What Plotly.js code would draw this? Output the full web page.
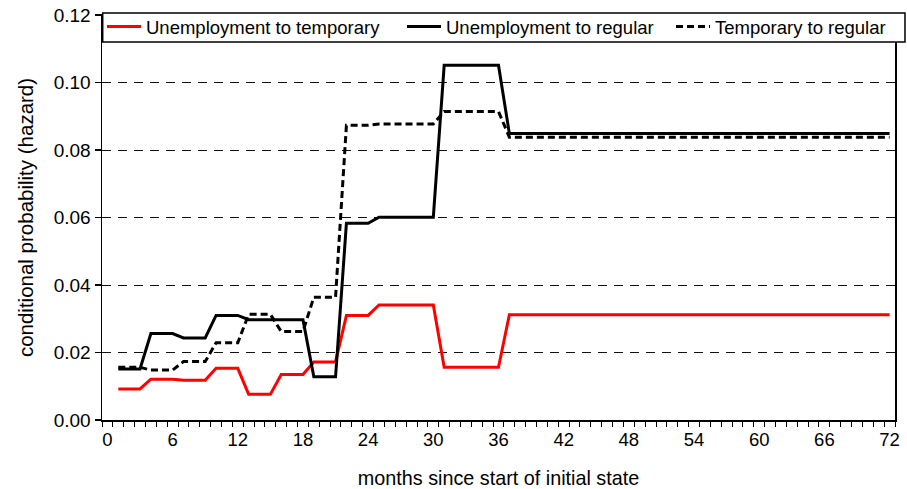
<!DOCTYPE html>
<html>
<head>
<meta charset="utf-8">
<script src="https://cdn.plot.ly/plotly-3.0.1.min.js"></script>
<style>
html,body{margin:0;padding:0;background:#fff;}
#chart{width:907px;height:489px;}
</style>
</head>
<body>
<div id="chart"></div>
<script>
var months = [1,2,3,4,5,6,7,8,9,10,11,12,13,14,15,16,17,18,19,20,21,22,23,24,25,26,27,28,29,30,31,32,33,34,35,36,37,38,39,40,41,42,43,44,45,46,47,48,49,50,51,52,53,54,55,56,57,58,59,60,61,62,63,64,65,66,67,68,69,70,71,72];

var unempToTemp = [
  0.0092,0.0092,0.0092, 0.0121,0.0121,0.0121, 0.0118,0.0118,0.0118,
  0.0153,0.0153,0.0153, 0.0076,0.0076,0.0076, 0.0135,0.0135,0.0135,
  0.0172,0.0172,0.0172, 0.0310,0.0310,0.0310,
  0.0341,0.0341,0.0341,0.0341,0.0341,0.0341,
  0.0156,0.0156,0.0156,0.0156,0.0156,0.0156,
  0.0312,0.0312,0.0312,0.0312,0.0312,0.0312,0.0312,0.0312,0.0312,0.0312,0.0312,0.0312,
  0.0312,0.0312,0.0312,0.0312,0.0312,0.0312,0.0312,0.0312,0.0312,0.0312,0.0312,0.0312,
  0.0312,0.0312,0.0312,0.0312,0.0312,0.0312,0.0312,0.0312,0.0312,0.0312,0.0312,0.0312
];

var unempToRegular = [
  0.0151,0.0151,0.0151, 0.0256,0.0256,0.0256, 0.0243,0.0243,0.0243,
  0.0310,0.0310,0.0310, 0.0297,0.0297,0.0297, 0.0297,0.0297,0.0297,
  0.0128,0.0128,0.0128, 0.0583,0.0583,0.0583,
  0.0601,0.0601,0.0601,0.0601,0.0601,0.0601,
  0.1051,0.1051,0.1051,0.1051,0.1051,0.1051,
  0.0849,0.0849,0.0849,0.0849,0.0849,0.0849,0.0849,0.0849,0.0849,0.0849,0.0849,0.0849,
  0.0849,0.0849,0.0849,0.0849,0.0849,0.0849,0.0849,0.0849,0.0849,0.0849,0.0849,0.0849,
  0.0849,0.0849,0.0849,0.0849,0.0849,0.0849,0.0849,0.0849,0.0849,0.0849,0.0849,0.0849
];

var tempToRegular = [
  0.0156,0.0156,0.0156, 0.0148,0.0148,0.0148, 0.0173,0.0173,0.0173,
  0.0229,0.0229,0.0229, 0.0313,0.0313,0.0313, 0.0262,0.0262,0.0262,
  0.0364,0.0364,0.0364, 0.0873,0.0873,0.0873,
  0.0877,0.0877,0.0877,0.0877,0.0877,0.0877,
  0.0914,0.0914,0.0914,0.0914,0.0914,0.0914,
  0.0838,0.0838,0.0838,0.0838,0.0838,0.0838,0.0838,0.0838,0.0838,0.0838,0.0838,0.0838,
  0.0838,0.0838,0.0838,0.0838,0.0838,0.0838,0.0838,0.0838,0.0838,0.0838,0.0838,0.0838,
  0.0838,0.0838,0.0838,0.0838,0.0838,0.0838,0.0838,0.0838,0.0838,0.0838,0.0838,0.0838
];

var seriesNames = ['Unemployment to temporary', 'Unemployment to regular', 'Temporary to regular'];
var xTickVals = [0,6,12,18,24,30,36,42,48,54,60,66,72];
var yTickVals = [0,0.02,0.04,0.06,0.08,0.10,0.12];
var yTickText = ['0.00','0.02','0.04','0.06','0.08','0.10','0.12'];

var FONT = 'Liberation Sans, Arial, Helvetica, sans-serif';

var traces = [
  {x: months, y: unempToTemp, name: seriesNames[0], type: 'scatter', mode: 'lines',
   line: {color: '#ff0000', width: 3}, legendwidth: 251},
  {x: months, y: unempToRegular, name: seriesNames[1], type: 'scatter', mode: 'lines',
   line: {color: '#000000', width: 3}, legendwidth: 220},
  {x: months, y: tempToRegular, name: seriesNames[2], type: 'scatter', mode: 'lines',
   line: {color: '#000000', width: 3, dash: '7px,4px'}, legendwidth: 175}
];

var layout = {
  width: 907, height: 489,
  margin: {l: 102, r: 12, t: 15, b: 69, pad: 0, autoexpand: false},
  paper_bgcolor: '#fff', plot_bgcolor: '#fff',
  font: {family: FONT, size: 18.5, color: '#000'},
  showlegend: true,
  legend: {
    orientation: 'h', xref: 'container', yref: 'container',
    x: 0.11246, xanchor: 'left', y: 0.98364, yanchor: 'top',
    bgcolor: 'rgba(0,0,0,0)', borderwidth: 0, itemwidth: 34,
    font: {family: FONT, size: 18.5, color: '#000'},
    traceorder: 'normal'
  },
  xaxis: {
    range: [-0.5, 72.5],
    tickmode: 'array', tickvals: xTickVals,
    ticks: 'outside', ticklen: 0, tickcolor: '#000',
    minor: {tickmode: 'linear', tick0: -0.5, dtick: 1, ticks: 'outside', ticklen: 5, tickcolor: '#000', tickwidth: 1, showgrid: false},
    showline: true, linecolor: '#000', linewidth: 1.5, mirror: true,
    showgrid: false, zeroline: false, automargin: false,
    ticklabelstandoff: 2,
    tickfont: {family: FONT, size: 18.5, color: '#000'},
    title: {text: 'months since start of initial state', font: {family: FONT, size: 19.8, color: '#000'}, standoff: 22}
  },
  yaxis: {
    range: [0, 0.12],
    tickmode: 'array', tickvals: yTickVals, ticktext: yTickText,
    ticks: 'outside', ticklen: 6, tickcolor: '#000', tickwidth: 1.2,
    showline: true, linecolor: '#000', linewidth: 1.5, mirror: true,
    showgrid: true, gridcolor: '#111', gridwidth: 1, griddash: '9px,7px',
    zeroline: false, automargin: false,
    tickfont: {family: FONT, size: 19, color: '#000'},
    title: {text: 'conditional probability (hazard)', font: {family: FONT, size: 20.5, color: '#000'}, standoff: 14}
  },
  shapes: [
    {type: 'rect', xref: 'paper', yref: 'paper', x0: 0.0009, x1: 1.0126, y0: 0.9333, y1: 1.0049,
     fillcolor: '#fff', line: {color: '#000', width: 1.5}, layer: 'above'}
  ]
};

Plotly.newPlot('chart', traces, layout, {staticPlot: true, displayModeBar: false});
</script>
</body>
</html>
